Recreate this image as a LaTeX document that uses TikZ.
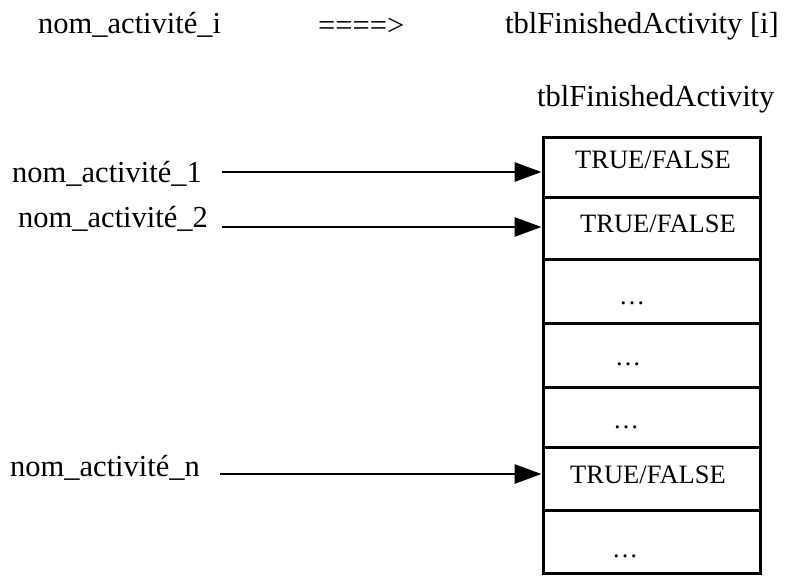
\documentclass[tikz,border=0pt]{standalone}
\usepackage{fontspec}
\setmainfont{Liberation Serif}
\usetikzlibrary{arrows.meta}

\tikzset{
  lbl/.style={anchor=base west, inner sep=0pt, font=\fontsize{30.5}{36}\selectfont},
  celltxt/.style={anchor=base west, inner sep=0pt, font=\fontsize{26.5}{32}\selectfont},
  dots/.style={anchor=base, inner sep=0pt, font=\fontsize{26}{32}\selectfont},
  cell/.style={draw, line width=3pt, minimum width=217pt, inner sep=0pt},
  arr/.style={line width=2.8pt, -{Triangle[length=27pt,width=19pt]}}
}

\begin{document}
\begin{tikzpicture}[x=1pt,y=-1pt]
  \useasboundingbox (0,0) rectangle (793,576);

  % header line
  \node[lbl] (hname) at (38,33) {nom\_activité\_i};
  \node[lbl] (harrow) at (318,35) {====>};
  \node[lbl] (hidx) at (505,33) {tblFinishedActivity [i]};

  % array title
  \node[lbl] (title) at (537,106) {tblFinishedActivity};

  % array cells, top to bottom
  \node[cell, minimum height=60pt] (r1) at (651.5,167) {};
  \node[cell, minimum height=62pt] (r2) at (651.5,228) {};
  \node[cell, minimum height=64pt] (r3) at (651.5,291) {};
  \node[cell, minimum height=64pt] (r4) at (651.5,355) {};
  \node[cell, minimum height=60pt] (r5) at (651.5,417) {};
  \node[cell, minimum height=63pt] (r6) at (651.5,478.5) {};
  \node[cell, minimum height=63pt] (r7) at (651.5,541.5) {};

  % cell contents
  \node[celltxt] (t1) at (575,168) {TRUE/FALSE};
  \node[celltxt] (t2) at (580,232) {TRUE/FALSE};
  \node[dots] (d3) at (632,304) {…};
  \node[dots] (d4) at (628,365) {…};
  \node[dots] (d5) at (626,428) {…};
  \node[celltxt] (t6) at (570,483) {TRUE/FALSE};
  \node[dots] (d7) at (625,557) {…};

  % activity names
  \node[lbl] (a1) at (12,182) {nom\_activité\_1};
  \node[lbl] (a2) at (18,227) {nom\_activité\_2};
  \node[lbl] (an) at (10,476) {nom\_activité\_n};

  % arrows from names to their cells
  \coordinate (s1) at (222,172);
  \coordinate (s2) at (222,227);
  \coordinate (sn) at (220,474);
  \draw[arr] (s1) -- (s1 -| r1.west);
  \draw[arr] (s2) -- (s2 -| r2.west);
  \draw[arr] (sn) -- (sn -| r6.west);
\end{tikzpicture}
\end{document}
